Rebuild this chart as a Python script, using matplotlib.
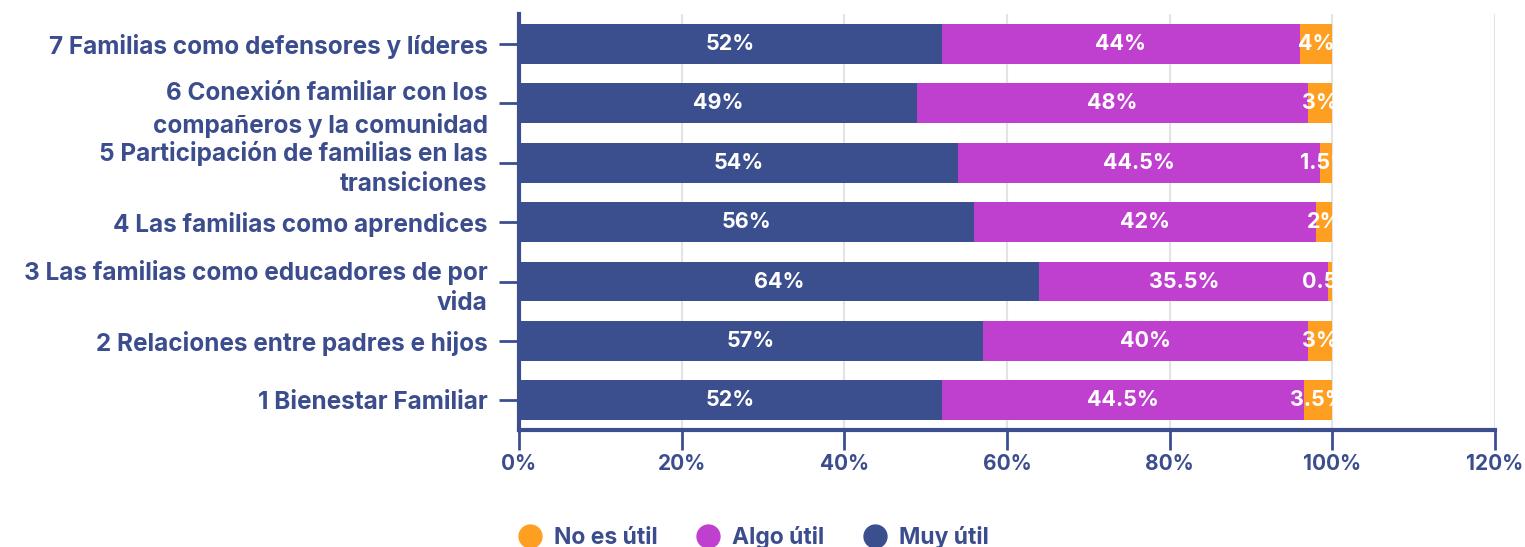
import matplotlib

matplotlib.use("Agg")
import matplotlib.pyplot as plt
from matplotlib.lines import Line2D
from matplotlib.patches import Rectangle

categories = [
    "1 Bienestar Familiar",
    "2 Relaciones entre padres e hijos",
    "3 Las familias como educadores de por\nvida",
    "4 Las familias como aprendices",
    "5 Participación de familias en las\ntransiciones",
    "6 Conexión familiar con los\ncompañeros y la comunidad",
    "7 Familias como defensores y líderes",
]
muy_util = [52, 57, 64, 56, 54, 49, 52]
algo_util = [44.5, 40, 35.5, 42, 44.5, 48, 44]
no_util = [3.5, 3, 0.5, 2, 1.5, 3, 4]
x_ticks = [0, 20, 40, 60, 80, 100, 120]

NAVY = "#3b4f8f"
PURPLE = "#bf3fcf"
ORANGE = "#ff9f22"
TEXT = "#3c4d8e"
FONT = "Inter"

plt.rcParams["font.family"] = [FONT, "DejaVu Sans"]

fig = plt.figure(figsize=(15.25, 5.47), dpi=100)
ax = fig.add_axes([0.3403, 0.2139, 0.64, 0.7601])

series = [(muy_util, NAVY, "Muy útil"), (algo_util, PURPLE, "Algo útil"), (no_util, ORANGE, "No es útil")]
left = [0.0] * len(categories)
for values, color, name in series:
    bars = ax.barh(range(len(categories)), values, left=left, height=0.67, color=color, zorder=3)
    for i, (bar, v) in enumerate(zip(bars, values)):
        t = ax.text(left[i] + v / 2, i, f"{v:g}%", ha="center", va="center",
                    color="white", fontsize=15.5, fontweight="bold", zorder=4)
        # labels wider than their segment get cut at the segment edge
        clip = Rectangle((bar.get_x(), bar.get_y()), bar.get_width(), bar.get_height(),
                         transform=ax.transData)
        t.set_clip_path(clip)
    left = [l + v for l, v in zip(left, values)]

ax.set_xlim(0, 120)
ax.set_ylim(-0.5, len(categories) - 0.5)
ax.set_xticks(x_ticks)
ax.set_xticklabels([f"{t}%" for t in x_ticks])
ax.xaxis.grid(True, color="#e3e3e3", linewidth=1.5, zorder=0)

ax.set_yticks(range(len(categories)))
ax.set_yticklabels(categories, linespacing=1.4)
ax.tick_params(axis="y", length=14.5, width=2, color=NAVY, pad=8, labelsize=17.5, labelcolor=TEXT)
ax.tick_params(axis="x", length=14.5, width=2, color=NAVY, labelsize=15, labelcolor=TEXT, pad=3)
for lbl in ax.get_yticklabels() + ax.get_xticklabels():
    lbl.set_fontweight("bold")

for side in ["top", "right"]:
    ax.spines[side].set_visible(False)
for side in ["left", "bottom"]:
    ax.spines[side].set_color(NAVY)
    ax.spines[side].set_linewidth(3)

handles = [Line2D([], [], marker="o", linestyle="", markersize=16.5, color=c) for c in [ORANGE, PURPLE, NAVY]]
leg = fig.legend(handles, ["No es útil", "Algo útil", "Muy útil"], loc="center left",
                 bbox_to_anchor=(0.325, 0.018), ncol=3, frameon=False,
                 prop={"size": 16.5, "weight": "bold"}, handlelength=1.2, handletextpad=0.45,
                 columnspacing=1.6)
for txt in leg.get_texts():
    txt.set_color(TEXT)

fig.savefig("out.png", dpi=100)
